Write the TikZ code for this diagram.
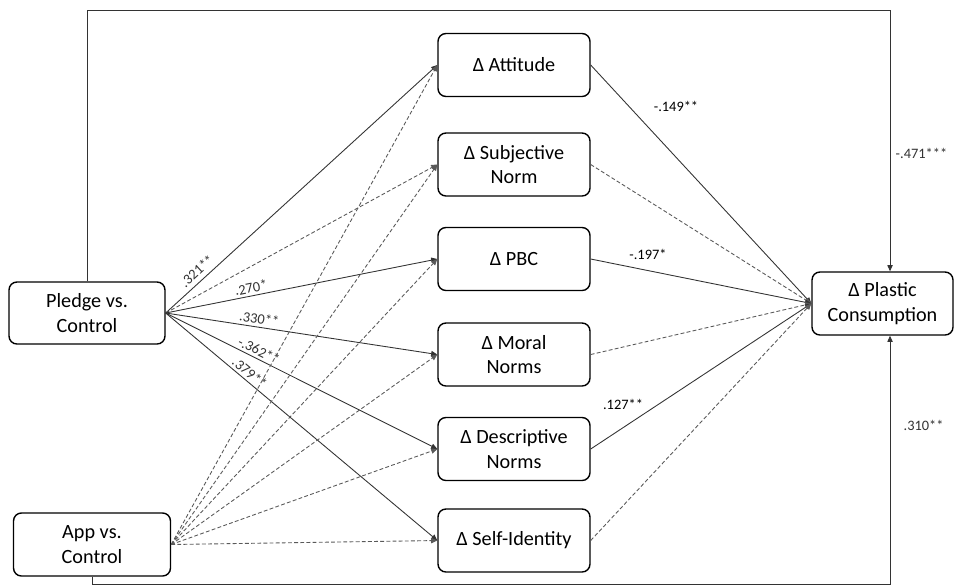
\documentclass[tikz,border=0pt]{standalone}
\usepackage{fontspec}
\setmainfont{Carlito}
\usetikzlibrary{positioning,arrows.meta}

\begin{document}
\begin{tikzpicture}[x=0.02cm, y=-0.02cm, >={Triangle[length=3.5pt,width=3pt]},
        box/.style = {draw, thick, rounded corners=4.5pt, align=center, inner sep=2pt,
            minimum width=3.04cm, minimum height=1.26cm, font=\fontsize{11.5}{14}\selectfont},
        link/.style = {line width=0.5pt, black!80},
        dlink/.style = {link, black!65, dash pattern=on 2.2pt off 1.3pt},
        lbl/.style = {font=\fontsize{8.2}{9.8}\selectfont, inner sep=1.5pt}]
    \useasboundingbox (0,0) rectangle (955,586);
    % boxes
    \node[box, minimum width=3.12cm, minimum height=1.24cm] (pledge) at (87,313) {Pledge vs.\\Control};
    \node[box, minimum width=3.14cm] (app) at (92,544.5) {App vs.\\Control};
    \node[box] (att) at (514,65) {Δ Attitude};
    \node[box] (sn) at (514,164.5) {Δ Subjective\\Norm};
    \node[box] (pbc) at (514,259) {Δ PBC};
    \node[box] (mn) at (514,354.5) {Δ Moral\\Norms};
    \node[box] (dn) at (514,449) {Δ Descriptive\\Norms};
    \node[box] (si) at (514,540.5) {Δ Self-Identity};
    \node[box, minimum width=2.82cm] (pc) at (882.5,303.5) {Δ Plastic\\Consumption};
    \coordinate (tr) at (890,10);
    \coordinate (br) at (890,584);
    % direct effects
    \draw[link, ->] (pledge.north) |- (tr) -- node[lbl, right=1.5pt, pos=0.55] {-.471***} (tr |- pc.north);
    \draw[link, ->] (app.south) |- (br) -- node[lbl, right=6pt, pos=0.64] {.310**} (br |- pc.south);
    % pledge paths
    \draw[link, ->] (pledge.east) -- node[lbl, sloped, above=1pt, pos=0.14] {.321**} (att.west);
    \draw[dlink, ->] (pledge.east) -- (sn.west);
    \draw[link, ->] (pledge.east) -- node[lbl, sloped, above, pos=0.32] {.270*} (pbc.west);
    \draw[link, ->] (pledge.east) -- node[lbl, sloped, above, pos=0.34] {.330**} (mn.west);
    \draw[link, ->] (pledge.east) -- node[lbl, sloped, above, pos=0.33] {-.362**} (dn.west);
    \draw[link, ->] (pledge.east) -- node[lbl, sloped, above, pos=0.29] {.379**} (si.west);
    % app paths
    \foreach \m in {att,sn,pbc,mn,dn,si}
        \draw[dlink, ->] (app.east) -- (\m.west);
    % to outcome
    \draw[link, ->] (att.east) -- (pc.west);
    \draw[dlink, ->] (sn.east) -- (pc.west);
    \draw[link, ->] (pbc.east) -- (pc.west);
    \draw[dlink, ->] (mn.east) -- (pc.west);
    \draw[link, ->] (dn.east) -- (pc.west);
    \draw[dlink, ->] (si.east) -- (pc.west);
    \node[lbl] (l1) at (676,106) {-.149**};
    \node[lbl] (l2) at (648,254) {-.197*};
    \node[lbl] (l3) at (623,404) {.127**};
\end{tikzpicture}
\end{document}
